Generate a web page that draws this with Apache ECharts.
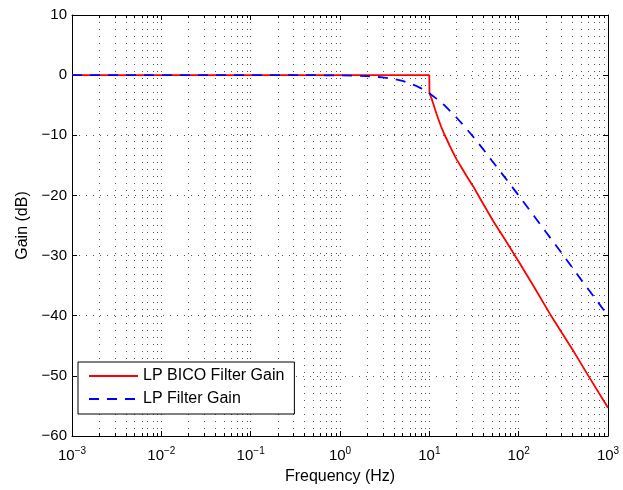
<!DOCTYPE html>
<html>
<head>
<meta charset="utf-8">
<script src="https://cdn.jsdelivr.net/npm/echarts@6/dist/echarts.min.js"></script>
<style>
html,body{margin:0;padding:0;background:#fff;}
#chart{width:623px;height:490px;}
</style>
</head>
<body>
<div id="chart"></div>
<script>
// ---- data ----
var seriesNames = ['LP BICO Filter Gain', 'LP Filter Gain'];
var bicoFreq = [0.001, 0.01, 0.1, 1, 5, 10, 10.03, 10.2, 10.6, 11.1, 11.6, 12.6, 13.5, 14.5, 15.7, 17, 18.5, 20.2, 23, 26.2, 31, 37, 52, 70, 100, 150, 224, 400, 603, 1000];
var bicoGain = [0, 0, 0, 0, 0, 0, -2.9, -3.3, -3.9, -4.8, -5.7, -7.3, -8.5, -9.6, -10.7, -11.8, -12.9, -14.0, -15.4, -16.8, -18.5, -20.5, -24.3, -27.3, -31.0, -35.3, -39.7, -45.6, -50.0, -55.3];
var lpFreq = [0.001, 0.01, 0.1, 0.5, 1, 1.5, 2, 3, 4, 5, 6, 7, 8, 10, 12, 15, 20, 25, 30, 40, 50, 70, 100, 150, 200, 300, 500, 700, 1000];
var lpGain = [0, 0, 0, -0.01, -0.04, -0.1, -0.17, -0.37, -0.64, -0.97, -1.34, -1.73, -2.15, -3.0, -3.9, -5.1, -7.0, -8.6, -10.0, -12.3, -14.2, -17.0, -20.0, -23.5, -26.0, -29.5, -34.0, -36.9, -40.0];
var xTickExponents = [-3, -2, -1, 0, 1, 2, 3];
var yTicks = [10, 0, -10, -20, -30, -40, -50, -60];
var xName = 'Frequency (Hz)';
var yName = 'Gain (dB)';

// minor log ticks (2..9 x each decade)
var minorTicks = [];
for (var d = 0; d < xTickExponents.length - 1; d++) {
  for (var m = 2; m <= 9; m++) minorTicks.push(m * Math.pow(10, xTickExponents[d]));
}

function zip(a, b) { return a.map(function (v, i) { return [v, b[i]]; }); }

var FONT = '"Liberation Sans", Arial, Helvetica, sans-serif';
var GRIDC = '#555';
var xMin = Math.pow(10, xTickExponents[0]);
var xMax = Math.pow(10, xTickExponents[xTickExponents.length - 1]);
var yMin = yTicks[yTicks.length - 1], yMax = yTicks[0];

function xLabel(v) {
  var e = Math.round(Math.log(v) / Math.LN10);
  var s = e < 0 ? '\u2212' + Math.abs(e) : String(e);
  return '{b|10}{s|' + s + '}';
}
function yLabel(v) { return v < 0 ? '\u2212' + Math.abs(v) : String(v); }

var chart = echarts.init(document.getElementById('chart'), null, {renderer: 'canvas'});
var axisLine = {show: true, onZero: false, lineStyle: {color: '#000', width: 1}};
var option = {
  animation: false,
  backgroundColor: '#fff',
  textStyle: {fontFamily: FONT, color: '#000'},
  grid: {left: 72, top: 15, width: 536, height: 423, containLabel: false},
  legend: {
    orient: 'vertical', left: 78, top: 362,
    padding: [6, 10, 7, 10],
    itemWidth: 49, itemHeight: 14, itemGap: 7,
    borderColor: '#000', borderWidth: 1, borderRadius: 0,
    backgroundColor: '#fff',
    selectedMode: false,
    itemStyle: {opacity: 0},
    textStyle: {fontSize: 16, color: '#000', fontFamily: FONT},
    data: seriesNames
  },
  xAxis: [{
    type: 'log', logBase: 10, min: xMin, max: xMax, splitNumber: 6,
    position: 'bottom',
    name: xName, nameLocation: 'middle', nameGap: 33,
    nameTextStyle: {fontSize: 16, color: '#000', fontFamily: FONT},
    axisLine: axisLine,
    axisTick: {show: true, inside: true, length: 5, lineStyle: {color: '#000'}},
    axisLabel: {
      margin: 10, color: '#000', fontFamily: FONT,
      formatter: xLabel,
      rich: {
        b: {fontSize: 15, lineHeight: 20, fontFamily: FONT, color: '#000'},
        s: {fontSize: 10, lineHeight: 8, verticalAlign: 'top', fontFamily: FONT, color: '#000'}
      }
    },
    splitLine: {show: true, lineStyle: {color: GRIDC, type: [1, 6], width: 1}}
  }, {
    type: 'log', logBase: 10, min: xMin, max: xMax, splitNumber: 6,
    position: 'top',
    axisLine: axisLine,
    axisTick: {show: true, inside: true, length: 5, lineStyle: {color: '#000'}},
    axisLabel: {show: false},
    splitLine: {show: false}
  }],
  yAxis: [{
    type: 'value', min: yMin, max: yMax, interval: 10,
    position: 'left',
    name: yName, nameLocation: 'middle', nameGap: 40, nameRotate: 90,
    nameTextStyle: {fontSize: 16, color: '#000', fontFamily: FONT},
    axisLine: axisLine,
    axisTick: {show: true, inside: true, length: 5, lineStyle: {color: '#000'}},
    axisLabel: {margin: 5, fontSize: 15, color: '#000', fontFamily: FONT, formatter: yLabel},
    splitLine: {show: true, lineStyle: {color: GRIDC, type: [1, 6], width: 1}}
  }, {
    type: 'value', min: yMin, max: yMax, interval: 10,
    position: 'right',
    axisLine: axisLine,
    axisTick: {show: true, inside: true, length: 5, lineStyle: {color: '#000'}},
    axisLabel: {show: false},
    splitLine: {show: false}
  }],
  series: [{
    type: 'custom',
    name: 'minorGrid',
    silent: true,
    z: 1,
    xAxisIndex: 0, yAxisIndex: 0,
    data: minorTicks.map(function (v) { return [v]; }),
    renderItem: function (params, api) {
      var v = api.value(0);
      var b = api.coord([v, yMin]);
      var t = api.coord([v, yMax]);
      var x = Math.round(b[0]) + 0.5;
      return {
        type: 'group',
        children: [
          {type: 'line', shape: {x1: x, y1: b[1], x2: x, y2: t[1]},
           style: {stroke: GRIDC, lineWidth: 1, lineDash: [1, 6]}},
          {type: 'line', shape: {x1: x, y1: b[1], x2: x, y2: b[1] - 3},
           style: {stroke: '#000', lineWidth: 1}},
          {type: 'line', shape: {x1: x, y1: t[1], x2: x, y2: t[1] + 3},
           style: {stroke: '#000', lineWidth: 1}}
        ]
      };
    }
  }, {
    type: 'line', name: seriesNames[0],
    xAxisIndex: 0, yAxisIndex: 0,
    data: zip(bicoFreq, bicoGain),
    symbol: 'none', showSymbol: false, smooth: false, z: 3,
    lineStyle: {color: '#ff0000', width: 1.8, type: 'solid'},
    itemStyle: {color: '#ff0000'}
  }, {
    type: 'line', name: seriesNames[1],
    xAxisIndex: 0, yAxisIndex: 0,
    data: zip(lpFreq, lpGain),
    symbol: 'none', showSymbol: false, smooth: false, z: 4,
    lineStyle: {color: '#0000ff', width: 1.8, type: [10, 8]},
    itemStyle: {color: '#0000ff'}
  }]
};
chart.setOption(option);
</script>
</body>
</html>
